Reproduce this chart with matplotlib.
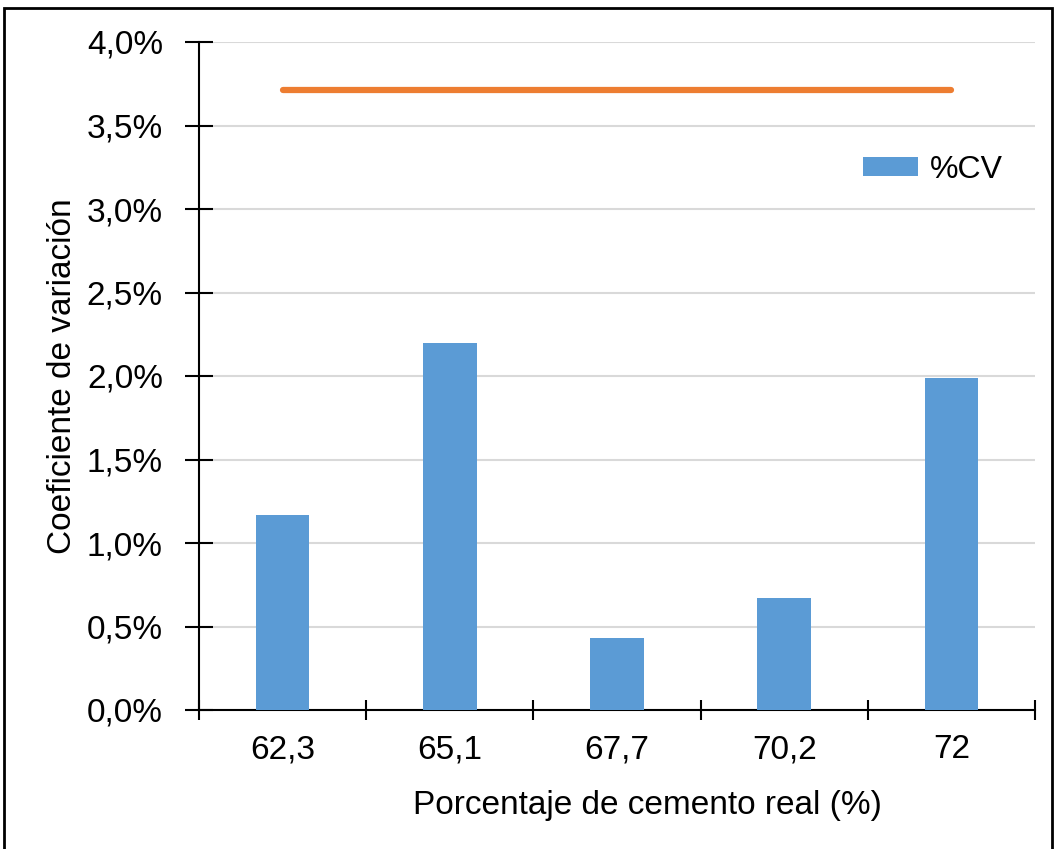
import matplotlib
matplotlib.use("Agg")
import matplotlib.pyplot as plt
from matplotlib.patches import Rectangle
from matplotlib.ticker import FuncFormatter, FixedLocator

plt.rcParams['font.family'] = ['Liberation Sans', 'DejaVu Sans']

categories = ["62,3", "65,1", "67,7", "70,2", "72"]
cv_values = [1.17, 2.20, 0.43, 0.67, 1.99]
limit_values = [3.71, 3.71, 3.71, 3.71, 3.71]

FS = 24

fig = plt.figure(figsize=(10.58, 8.49), dpi=100)
ax = fig.add_axes([199 / 1058, 1 - 710 / 849, (1035 - 199) / 1058, (710 - 42) / 849])

x = list(range(len(categories)))
ax.bar(x, cv_values, width=0.32, color="#5B9BD5", label="%CV", zorder=3)
ax.plot(x, limit_values, color="#ED7D31", linewidth=4.5, solid_capstyle="round", zorder=4)

ax.set_xlim(-0.5, len(categories) - 0.5)
ax.set_ylim(0, 4.0)
ax.set_yticks([i * 0.5 for i in range(9)])
ax.yaxis.set_major_formatter(FuncFormatter(lambda v, p: f"{v:.1f}%".replace(".", ",")))
ax.grid(axis="y", color="#D9D9D9", linewidth=1.5, zorder=0)

ax.set_xticks(x)
ax.set_xticklabels(categories)
ax.xaxis.set_minor_locator(FixedLocator([i - 0.5 for i in range(len(categories) + 1)]))
ax.tick_params(axis="x", which="major", length=0, pad=17.5, labelsize=FS)
ax.tick_params(axis="x", which="minor", length=14, width=1.5, direction="inout", color="black")
ax.tick_params(axis="y", which="major", length=20, width=1.5, direction="inout", labelsize=FS, pad=16)

for side in ("top", "right"):
    ax.spines[side].set_visible(False)
for side in ("left", "bottom"):
    ax.spines[side].set_linewidth(1.5)
    ax.spines[side].set_color("black")

ax.set_xlabel("Porcentaje de cemento real (%)", fontsize=FS)
ax.xaxis.set_label_coords((647 - 199) / (1035 - 199), -0.12)
ax.set_ylabel("Coeficiente de variación", fontsize=FS, labelpad=6)

ax.legend(loc="upper right", bbox_to_anchor=(0.988, 0.865), frameon=False, fontsize=FS - 1,
          handlelength=1.75, handleheight=0.55, handletextpad=0.35, borderaxespad=0.3)

fig.patches.append(Rectangle((4 / 1058, -0.05), (1052 - 4) / 1058, 1.05 - 8 / 849,
                             transform=fig.transFigure, fill=False,
                             edgecolor="black", linewidth=2))

fig.savefig("out.png", dpi=100)
